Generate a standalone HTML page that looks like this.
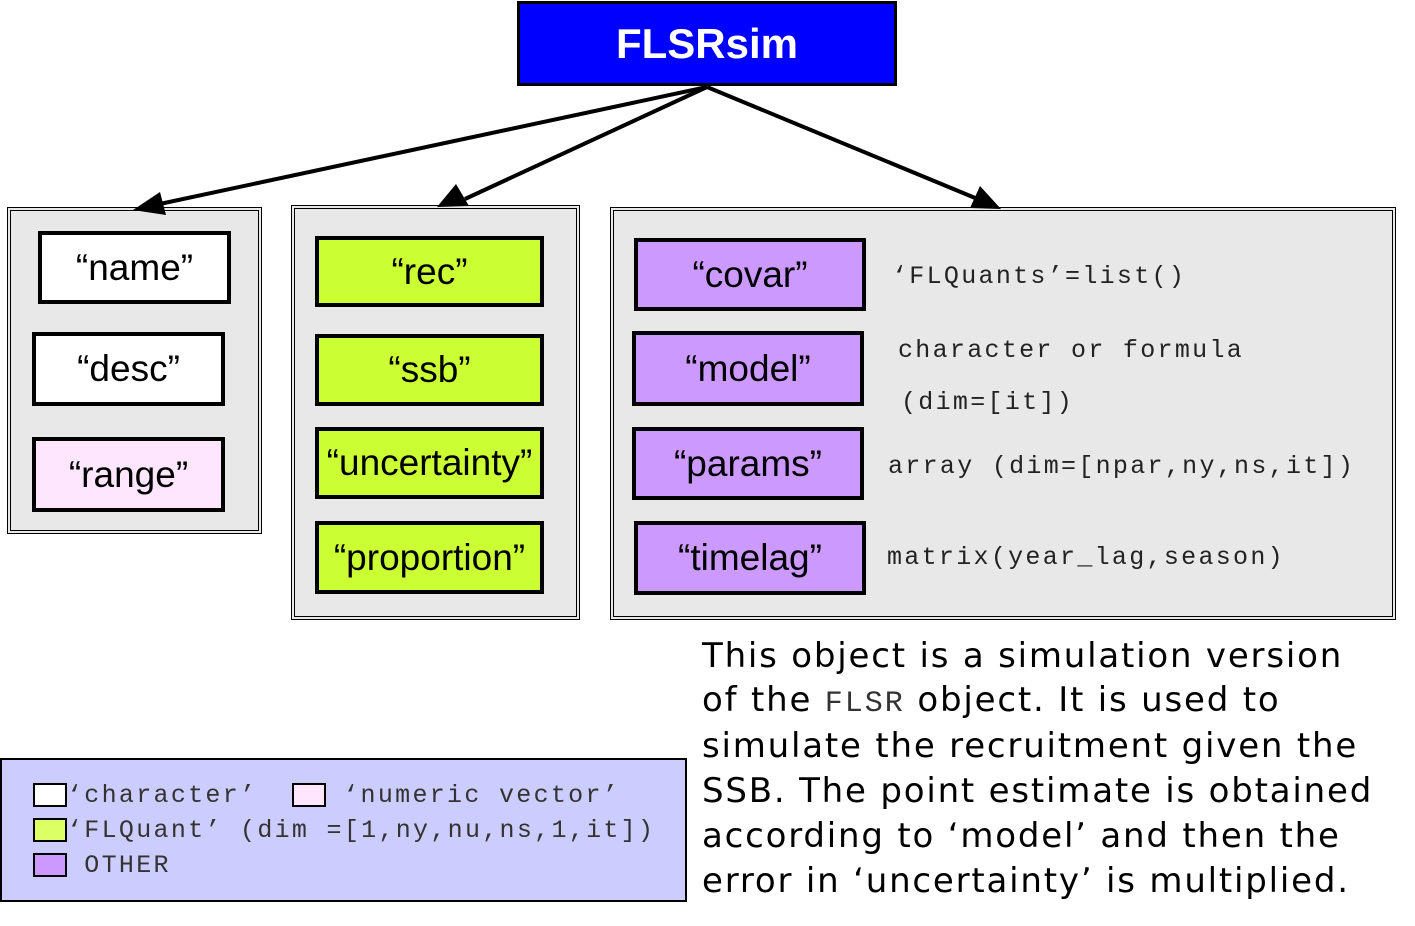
<!DOCTYPE html>
<html><head><meta charset="utf-8"><style>
body{margin:0;width:1415px;height:926px;background:#fff;position:relative;overflow:hidden;font-family:"Liberation Sans",sans-serif}
.a{position:absolute;box-sizing:border-box}
.g{background:#e8e8e8;border:4px double #000}
.b{border:4px solid #000;display:flex;align-items:center;justify-content:center;font-size:37px;color:#000}
.w{background:#fff}.p{background:#ffe6ff}.y{background:#ccff33}.v{background:#cc99ff}
.m{font-family:"Liberation Mono",monospace;font-size:25px;letter-spacing:2.3px;white-space:nowrap;color:#222}
.t{font-family:"DejaVu Sans",sans-serif;font-size:34px;letter-spacing:1.8px;white-space:nowrap;color:#000;left:702px}
.sq{display:inline-block;width:34px;height:24px;border:2px solid #000;vertical-align:middle;box-sizing:border-box}
</style></head><body>
<div class="a" style="left:517px;top:1px;width:380px;height:85px;background:#0000ff;border:3px solid #000;color:#fff;font-weight:bold;font-size:42px;display:flex;align-items:center;justify-content:center">FLSRsim</div>

<div class="a g" style="left:7px;top:207px;width:255px;height:327px"></div>
<div class="a g" style="left:291px;top:205px;width:289px;height:415px"></div>
<div class="a g" style="left:610px;top:207px;width:786px;height:413px"></div>

<svg class="a" style="left:0;top:0" width="1415" height="926">
<g stroke="#000" stroke-width="4">
<line x1="707" y1="87" x2="155" y2="205"/>
<line x1="707" y1="87" x2="465" y2="199"/>
<line x1="707" y1="87" x2="980" y2="200"/>
</g>
<polygon points="133,210 160,192 166,215" fill="#000"/>
<polygon points="437,207 456,184 469,206" fill="#000"/>
<polygon points="1001,209 970,208 980,186" fill="#000"/>
</svg>

<div class="a b w" style="left:38px;top:231px;width:193px;height:73px">“name”</div>
<div class="a b w" style="left:32px;top:332px;width:193px;height:74px">“desc”</div>
<div class="a b p" style="left:32px;top:437px;width:193px;height:75px">“range”</div>

<div class="a b y" style="left:315px;top:236px;width:229px;height:71px">“rec”</div>
<div class="a b y" style="left:315px;top:334px;width:229px;height:72px">“ssb”</div>
<div class="a b y" style="left:315px;top:427px;width:229px;height:72px">“uncertainty”</div>
<div class="a b y" style="left:315px;top:521px;width:229px;height:73px">“proportion”</div>

<div class="a b v" style="left:634px;top:238px;width:232px;height:73px">“covar”</div>
<div class="a b v" style="left:632px;top:331px;width:232px;height:75px">“model”</div>
<div class="a b v" style="left:632px;top:427px;width:232px;height:73px">“params”</div>
<div class="a b v" style="left:634px;top:521px;width:232px;height:74px">“timelag”</div>

<div class="a m" style="left:892px;top:262px">‘FLQuants’=list()</div>
<div class="a m" style="left:898px;top:336px">character or formula</div>
<div class="a m" style="left:901px;top:388px">(dim=[it])</div>
<div class="a m" style="left:888px;top:452px">array (dim=[npar,ny,ns,it])</div>
<div class="a m" style="left:887px;top:543px">matrix(year_lag,season)</div>

<div class="a" style="left:0;top:758px;width:687px;height:144px;background:#ccccff;border:2px solid #000"></div>
<div class="a m" style="left:33px;top:781px;color:#333"><span class="sq" style="background:#fff"></span>‘character’&nbsp;&nbsp;<span class="sq" style="background:#ffe6ff"></span>&nbsp;‘numeric vector’</div>
<div class="a m" style="left:33px;top:816px;color:#333"><span class="sq" style="background:#ddff66"></span>‘FLQuant’ (dim =[1,ny,nu,ns,1,it])</div>
<div class="a m" style="left:33px;top:851px;color:#333"><span class="sq" style="background:#cc99ff"></span>&nbsp;OTHER</div>

<div class="a t" style="top:636px">This object is a simulation version</div>
<div class="a t" style="top:680px">of the <span style="font-family:'Liberation Mono',monospace;font-size:30px;color:#333;letter-spacing:2px">FLSR</span> object. It is used to</div>
<div class="a t" style="top:726px">simulate the recruitment given the</div>
<div class="a t" style="top:771px">SSB. The point estimate is obtained</div>
<div class="a t" style="top:816px">according to ‘model’ and then the</div>
<div class="a t" style="top:861px">error in ‘uncertainty’ is multiplied.</div>
</body></html>
